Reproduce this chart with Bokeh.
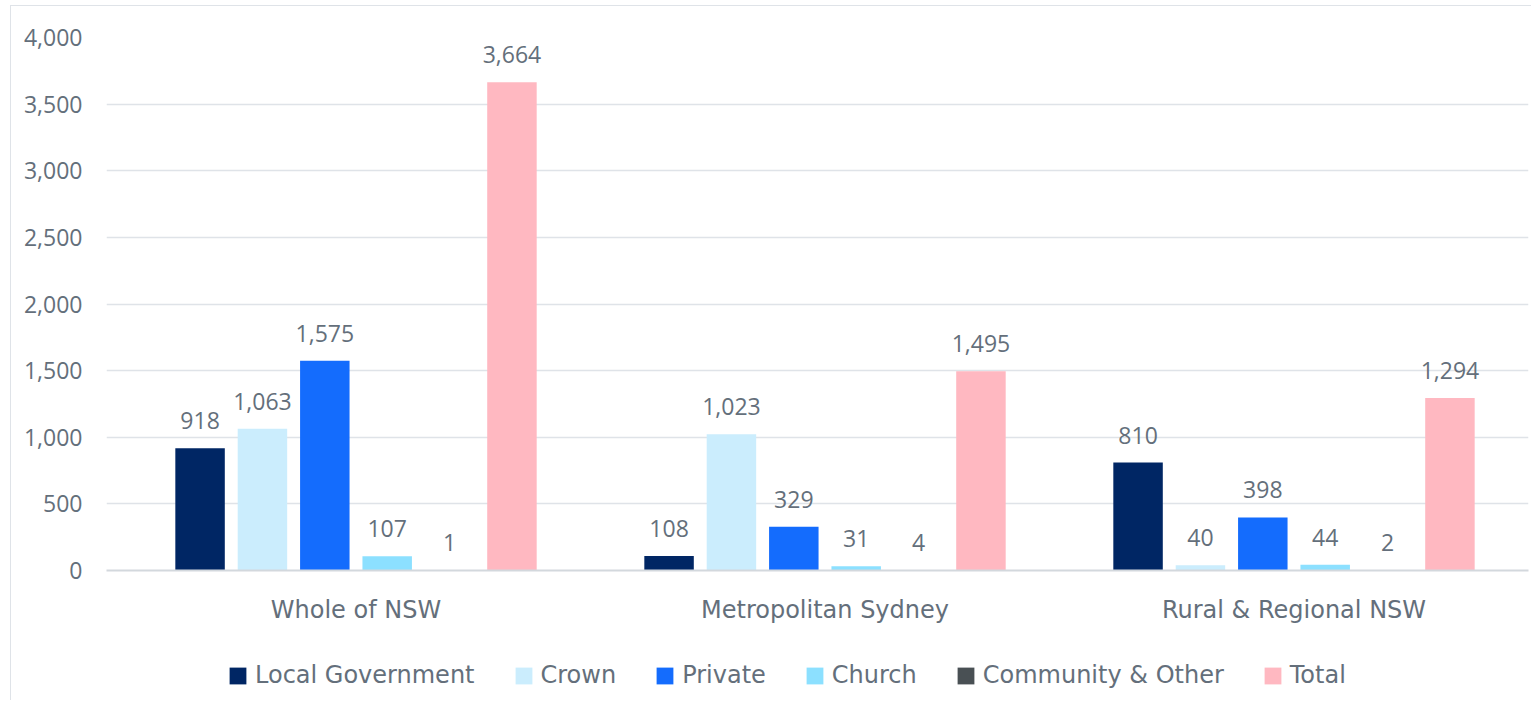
from bokeh.plotting import figure
from bokeh.layouts import column
from bokeh.models import (Range1d, ColumnDataSource, Legend, LegendItem,
                          NumeralTickFormatter, FixedTicker)
from bokeh.core.properties import value
from bokeh.embed import file_html
from bokeh.resources import INLINE

regions = ["Whole of NSW", "Metropolitan Sydney", "Rural & Regional NSW"]
series = ["Local Government", "Crown", "Private", "Church", "Community & Other", "Total"]
local_government = [918, 108, 810]
crown = [1063, 1023, 40]
private = [1575, 329, 398]
church = [107, 31, 44]
community_other = [1, 4, 2]
total = [3664, 1495, 1294]
y_ticks = [0, 500, 1000, 1500, 2000, 2500, 3000, 3500, 4000]

values_by_series = [local_government, crown, private, church, community_other, total]
colors = ["#002664", "#cbedfd", "#146cfd", "#8ce0ff", "#495054", "#ffb8c1"]

NUM_FONT = "Open Sans"
TXT_FONT = "DejaVu Sans"
TXT = "#646f7b"
NUM_FS = "23px"
TXT_FS = "24px"

centers = [j + 0.5 for j in range(len(regions))]

p = figure(x_range=Range1d(-0.032, len(regions)), y_range=Range1d(0, 4000),
           frame_width=1422, frame_height=533, output_backend="svg", toolbar_location=None,
           min_border_left=95, min_border_right=3, min_border_top=31, min_border_bottom=70)
p.outline_line_color = None

pitch = 0.133
bar_w = 0.1055
for i, (name, vals, col) in enumerate(zip(series, values_by_series, colors)):
    off = (i - 2.5) * pitch
    src = ColumnDataSource(dict(x=[c + off for c in centers], v=vals,
                                lab=[f"{v:,}" for v in vals]))
    p.vbar(x="x", top="v", width=bar_w, source=src, fill_color=col, line_color=None)
    p.text(x="x", y="v", text="lab", source=src,
           text_align="center", text_baseline="bottom", y_offset=-19,
           text_font=value(NUM_FONT), text_font_size=NUM_FS, text_color=TXT)

p.yaxis.ticker = FixedTicker(ticks=y_ticks)
p.yaxis.formatter = NumeralTickFormatter(format="0,0")
p.yaxis.axis_line_color = None
p.yaxis.major_tick_line_color = None
p.yaxis.minor_tick_line_color = None
p.yaxis.major_label_text_font = NUM_FONT
p.yaxis.major_label_text_font_size = NUM_FS
p.yaxis.major_label_text_color = TXT
p.yaxis.major_label_standoff = 18

p.xaxis.ticker = FixedTicker(ticks=centers)
p.xaxis.major_label_overrides = {c: r for c, r in zip(centers, regions)}
p.xaxis.axis_line_color = "#d3d8dd"
p.xaxis.axis_line_width = 2
p.xaxis.major_tick_line_color = None
p.xaxis.minor_tick_line_color = None
p.xaxis.major_label_text_font = TXT_FONT
p.xaxis.major_label_text_font_size = TXT_FS
p.xaxis.major_label_text_color = TXT
p.xaxis.major_label_standoff = 19

p.xgrid.grid_line_color = None
p.ygrid.grid_line_color = "#dfe3e8"
p.ygrid.grid_line_width = 1.5

# legend strip below the chart (legend swatches only; marks sit outside the view)
lf = figure(width=1520, height=60, x_range=Range1d(0, 1), y_range=Range1d(0, 1),
            output_backend="svg", toolbar_location=None,
            min_border_left=0, min_border_right=0, min_border_top=0, min_border_bottom=0)
lf.axis.visible = False
lf.grid.visible = False
lf.outline_line_color = None
items = []
for name, col in zip(series, colors):
    r = lf.vbar(x=[-5], top=[-5], bottom=[-6], width=0.1, fill_color=col, line_color=None)
    items.append(LegendItem(label=name, renderers=[r]))
legend = Legend(items=items, orientation="horizontal", location=(121, 11),
                label_text_font=TXT_FONT, label_text_font_size=TXT_FS, label_text_color=TXT,
                glyph_width=21, glyph_height=21, label_height=21, spacing=38,
                label_standoff=7, border_line_color=None, background_fill_alpha=0,
                margin=0, padding=0)
lf.add_layout(legend, "center")

layout = column(p, lf, spacing=0,
                styles={"border-left": "1px solid #dfe3e8", "border-top": "1px solid #dfe3e8",
                        "margin-left": "10px", "margin-top": "5px"})

open("out.html", "w").write(file_html(layout, INLINE))
